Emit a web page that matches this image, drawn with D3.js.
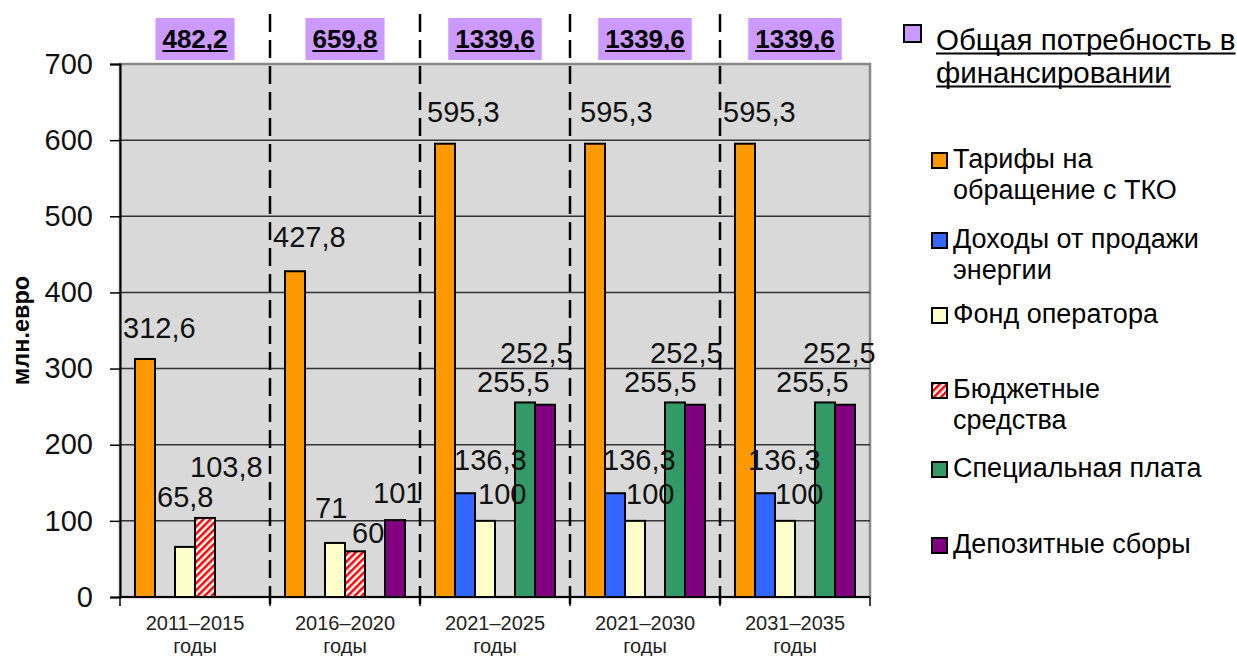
<!DOCTYPE html>
<html>
<head>
<meta charset="utf-8">
<script src="https://cdn.jsdelivr.net/npm/d3@7/dist/d3.min.js"></script>
<style>
  html, body { margin: 0; padding: 0; background: #fff; }
  svg { display: block; font-family: "Liberation Sans", Arial, sans-serif; }
</style>
</head>
<body>
<svg id="chart" width="1237" height="656"></svg>
<script>
// ---------- DATA ----------
const periods = ["2011–2015", "2016–2020", "2021–2025", "2021–2030", "2031–2035"];
const periodSuffix = "годы";
const totalNeed = [482.2, 659.8, 1339.6, 1339.6, 1339.6];
const seriesNames = [
  "Тарифы на обращение с ТКО",
  "Доходы от продажи энергии",
  "Фонд оператора",
  "Бюджетные средства",
  "Специальная плата",
  "Депозитные сборы"
];
const tariffs      = [312.6, 427.8, 595.3, 595.3, 595.3];
const energySales  = [null,  null,  136.3, 136.3, 136.3];
const operatorFund = [65.8,  71,    100,   100,   100];
const budgetFunds  = [103.8, 60,    null,  null,  null];
const specialFee   = [null,  null,  255.5, 255.5, 255.5];
const depositFees  = [null,  101,   252.5, 252.5, 252.5];
const yTicks = [0, 100, 200, 300, 400, 500, 600, 700];
const totalLegend = "Общая потребность в финансировании";
const yTitle = "млн.евро";

// ---------- STYLE / LAYOUT ----------
const seriesValues = [tariffs, energySales, operatorFund, budgetFunds, specialFee, depositFees];
const seriesFill = ["#ff9900", "#3366ff", "#ffffcc", "url(#hatch)", "#339966", "#800080"];
const totalFill = "#cc99ff";
// label nudges [dx from bar left, baseline distance above bar top]
const labelNudge = [
  [[-12, 21], [-12, 24], [-8, 22], [-5, 22], [-12, 22]],
  [null, null, [-1, 23], [-2, 23], [-7, 23]],
  [[-18, 40], [-10, 25], [3, 17], [1, 17], [0, 17]],
  [[-5, 41], [7, 8], null, null, null],
  [null, null, [-38, 10], [-41, 10], [-39, 10]],
  [null, [-12, 17], [-35, 42], [-35, 42], [-32, 42]]
];
const fmt = v => String(v).replace(".", ",");

const svg = d3.select("#chart");
const defs = svg.append("defs");
const pat = defs.append("pattern").attr("id", "hatch")
  .attr("patternUnits", "userSpaceOnUse").attr("width", 5).attr("height", 5)
  .attr("patternTransform", "rotate(45)");
pat.append("rect").attr("width", 5).attr("height", 5).attr("fill", "#fff");
pat.append("rect").attr("width", 2.5).attr("height", 5).attr("fill", "#ff0000");

const plot = { left: 120, right: 870, top: 64, bottom: 597 };
const x0 = d3.scaleBand().domain(periods).range([plot.left, plot.right]).paddingInner(0).paddingOuter(0);
const x1 = d3.scaleBand().domain(d3.range(seriesNames.length)).range([15, x0.bandwidth() - 15]);
const y = d3.scaleLinear().domain([0, 700]).range([plot.bottom, plot.top]);

// plot background
svg.append("rect").attr("x", plot.left).attr("y", plot.top)
  .attr("width", plot.right - plot.left).attr("height", plot.bottom - plot.top)
  .attr("fill", "#d9d9d9").attr("stroke", "#888").attr("stroke-width", 2.5);

// gridlines
svg.append("g").selectAll("line").data(yTicks.filter(t => t > 0 && t < 700)).join("line")
  .attr("x1", plot.left).attr("x2", plot.right)
  .attr("y1", d => y(d)).attr("y2", d => y(d))
  .attr("stroke", "#333").attr("stroke-width", 1.5);

// y axis
const yAxis = svg.append("g").attr("transform", `translate(${plot.left},0)`)
  .call(d3.axisLeft(y).tickValues(yTicks).tickSize(10).tickPadding(17));
yAxis.select(".domain").attr("stroke", "#000").attr("stroke-width", 2);
yAxis.selectAll(".tick line").attr("stroke", "#000").attr("stroke-width", 1.5);
yAxis.selectAll(".tick text").attr("font-size", 29).attr("fill", "#111")
  .attr("font-family", "Liberation Sans, Arial, sans-serif");

// y title
svg.append("text").attr("transform", `translate(29,${(plot.top + plot.bottom) / 2}) rotate(-90)`)
  .attr("text-anchor", "middle").attr("font-size", 23.5).attr("font-weight", "bold")
  .attr("fill", "#000").text(yTitle);

// bars
const groups = svg.append("g").selectAll("g").data(periods).join("g")
  .attr("transform", d => `translate(${x0(d)},0)`);
groups.each(function(p, ci) {
  const g = d3.select(this);
  seriesValues.forEach((vals, si) => {
    const v = vals[ci];
    if (v == null) return;
    g.append("rect").attr("x", x1(si)).attr("y", y(v))
      .attr("width", x1.bandwidth()).attr("height", y(0) - y(v))
      .attr("fill", seriesFill[si]).attr("stroke", "#000").attr("stroke-width", 2);
  });
});

// x axis line
svg.append("line").attr("x1", plot.left).attr("x2", plot.right)
  .attr("y1", plot.bottom).attr("y2", plot.bottom).attr("stroke", "#000").attr("stroke-width", 2);
// category boundary ticks
const bounds = periods.map(p => x0(p)).concat([plot.right]);
svg.append("g").selectAll("line").data(bounds).join("line")
  .attr("x1", d => d).attr("x2", d => d).attr("y1", plot.bottom).attr("y2", plot.bottom + 9)
  .attr("stroke", "#000").attr("stroke-width", 1.5);

// dashed separators
svg.append("g").selectAll("line").data(bounds.slice(1, -1)).join("line")
  .attr("x1", d => d).attr("x2", d => d).attr("y1", 14).attr("y2", plot.bottom + 10)
  .attr("stroke", "#000").attr("stroke-width", 2.5).attr("stroke-dasharray", "18,8");

// x labels
const xl = svg.append("g").selectAll("text").data(periods).join("text")
  .attr("x", d => x0(d) + x0.bandwidth() / 2).attr("y", 630)
  .attr("text-anchor", "middle").attr("font-size", 20).attr("fill", "#222");
xl.append("tspan").text(d => d);
xl.append("tspan").attr("x", d => x0(d) + x0.bandwidth() / 2).attr("dy", 23).text(periodSuffix);

// value labels
groups.each(function(p, ci) {
  const g = d3.select(this);
  seriesValues.forEach((vals, si) => {
    const v = vals[ci];
    if (v == null) return;
    const n = labelNudge[si][ci] || [0, 6];
    g.append("text").attr("x", x1(si) + n[0]).attr("y", y(v) - n[1])
      .attr("font-size", 29).attr("fill", "#111").text(fmt(v));
  });
});

// total boxes
groups.each(function(p, ci) {
  const g = d3.select(this);
  const cx = x0.bandwidth() / 2;
  const t = g.append("text").attr("x", cx).attr("y", 48).attr("text-anchor", "middle")
    .attr("font-size", 26).attr("font-weight", "bold").attr("fill", "#000").text(fmt(totalNeed[ci]));
  const w = t.node().getComputedTextLength();
  g.insert("rect", "text").attr("x", cx - w / 2 - 7).attr("y", 18).attr("width", w + 14).attr("height", 42)
    .attr("fill", totalFill);
  g.append("line").attr("x1", cx - w / 2).attr("x2", cx + w / 2).attr("y1", 51).attr("y2", 51)
    .attr("stroke", "#000").attr("stroke-width", 2);
});

// legend
const leg = svg.append("g");
leg.append("rect").attr("x", 904).attr("y", 25).attr("width", 17).attr("height", 17)
  .attr("fill", totalFill).attr("stroke", "#000").attr("stroke-width", 2);
const totalLines = ["Общая потребность в", "финансировании"];
totalLines.forEach((ln, i) => {
  const t = leg.append("text").attr("x", 936).attr("y", 50 + i * 33).attr("font-size", 29.5)
    .attr("fill", "#000").text(ln);
  const w = t.node().getComputedTextLength();
  leg.append("line").attr("x1", 936).attr("x2", 936 + w).attr("y1", 53.5 + i * 33).attr("y2", 53.5 + i * 33)
    .attr("stroke", "#000").attr("stroke-width", 1.8);
});
const legendLines = [
  ["Тарифы на", "обращение с ТКО"],
  ["Доходы от продажи", "энергии"],
  ["Фонд оператора"],
  ["Бюджетные", "средства"],
  ["Специальная плата"],
  ["Депозитные сборы"]
];
const legendBase = [168, 248, 323, 398, 477, 553];
legendLines.forEach((lines, i) => {
  leg.append("rect").attr("x", 932).attr("y", legendBase[i] - 15).attr("width", 15).attr("height", 15)
    .attr("fill", seriesFill[i]).attr("stroke", "#000").attr("stroke-width", 2);
  lines.forEach((ln, j) => {
    leg.append("text").attr("x", 953).attr("y", legendBase[i] + j * 31).attr("font-size", 27)
      .attr("fill", "#000").text(ln);
  });
});
</script>
</body>
</html>
